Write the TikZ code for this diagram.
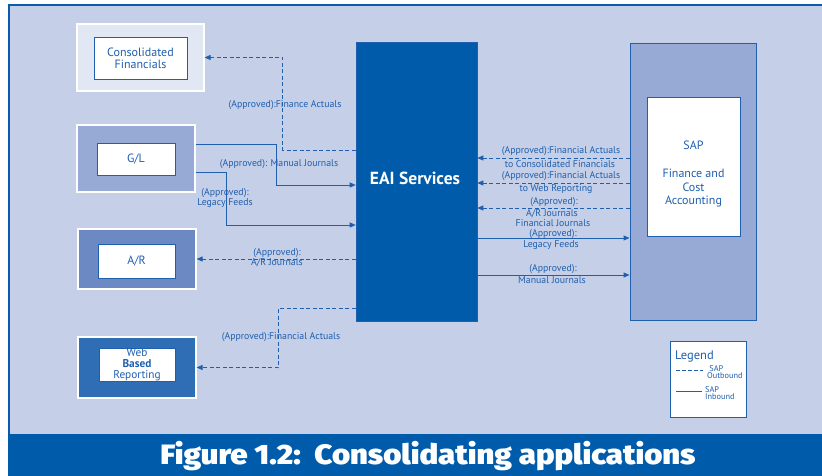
\documentclass[tikz,border=0pt]{standalone}
\usepackage{fontspec}
\setmainfont{PT Sans}
\newfontfamily\capfont{Fira Sans Black}[FakeStretch=1.11]
\usetikzlibrary{arrows.meta}
\definecolor{bgc}{HTML}{C5CFE7}
\definecolor{frameblue}{HTML}{0A5BAA}
\definecolor{eaiblue}{HTML}{005BAA}
\definecolor{midblue}{HTML}{97AAD6}
\definecolor{arblue}{HTML}{6C89C4}
\definecolor{webblue}{HTML}{2F6EB5}
\definecolor{paleblue}{HTML}{E1E7F3}
\definecolor{txtblue}{HTML}{1F5FAE}
\tikzset{
  x=1pt,y=-1pt,
  outerbox/.style={draw=white,line width=1.2pt,inner sep=0pt},
  innerbox/.style={draw=txtblue,fill=white,line width=0.9pt,inner sep=0pt,text=txtblue,font=\fontsize{12}{12}\selectfont,align=center},
  lbl/.style={text=txtblue,font=\fontsize{9.8}{9}\selectfont,inner sep=0pt,align=center},
  conn/.style={draw=txtblue,line width=0.9pt},
  outb/.style={conn,dash pattern=on 4pt off 2.5pt,-{Triangle[length=6pt,width=5pt]}},
  inb/.style={conn,-{Triangle[length=6pt,width=5pt]}},
}
\begin{document}
\begin{tikzpicture}
\useasboundingbox (0,0) rectangle (822,476);
% background frame
\fill[white] (0,0) rectangle (822,476);
\fill[bgc] (8,4) rectangle (822,434);
\draw[frameblue,line width=2pt] (9,434) -- (9,5) -- (822,5);
\fill[eaiblue] (8,434) rectangle (822,476);
\node[text=white,font=\capfont\fontsize{28}{29}\selectfont,inner sep=0pt] (cap) at (428,456) {Figure 1.2:\ \ Consolidating applications};

% left boxes
\node[outerbox,fill=paleblue,minimum width=127,minimum height=67] (cfo) at (140.5,57.5) {};
\node[innerbox,minimum width=93,minimum height=42] (cfi) at (140.5,58) {Consolidated\\Financials};
\node[outerbox,fill=midblue,minimum width=118,minimum height=67] (glo) at (136,158.5) {};
\node[innerbox,minimum width=78,minimum height=32] (gli) at (136,159) {G/L};
\node[outerbox,fill=arblue,minimum width=118,minimum height=60] (aro) at (137,259) {};
\node[innerbox,minimum width=77,minimum height=34] (ari) at (136.5,261) {A/R};
\node[outerbox,fill=webblue,minimum width=118,minimum height=61] (webo) at (137,367.5) {};
\node[innerbox,minimum width=76,minimum height=33,font=\fontsize{11.3}{10.8}\selectfont] (webi) at (137,364.5) {Web\\\textbf{Based}\\Reporting};

% EAI
\node[fill=eaiblue,draw=txtblue,line width=0.6pt,minimum width=121,minimum height=279,inner sep=0pt] (eai) at (416.5,181.5) {};
\node[text=white,font=\bfseries\fontsize{17.5}{18}\selectfont,inner sep=0pt] (eait) at (415,178) {EAI Services};

% SAP
\node[fill=midblue,draw=txtblue,line width=0.9pt,minimum width=126,minimum height=277,inner sep=0pt] (sapo) at (693,181.5) {};
\node[innerbox,minimum width=93,minimum height=139] (sapi) at (693.5,166.5) {};
\node[text=txtblue,font=\fontsize{12}{12}\selectfont,inner sep=0pt] (sapt) at (693.5,145) {SAP};
\node[text=txtblue,font=\fontsize{12}{13.5}\selectfont,inner sep=0pt,align=center] (sapf) at (693.5,188.5) {Finance and\\Cost\\Accounting};

% left connectors
\draw[outb] ([yshift=31.5pt]eai.west) -- ++(-73,0) |- (cfo.east);
\draw[inb] ([yshift=14.5pt]glo.east) -- ++(81,0) |- ([yshift=-3.5pt]eai.west);
\draw[inb] ([yshift=-13.5pt]glo.east) -- ++(31,0) |- ([yshift=-43.5pt]eai.west);
\draw[outb] ([yshift=-77.5pt]eai.west) -- (aro.east);
\draw[outb] ([yshift=-126.5pt]eai.west) -- ++(-77,0) |- (webo.east);

\node[lbl] (l1) at (285,105) {(Approved):Finance Actuals};
\node[lbl] (l2) at (279,164) {(Approved): Manual Journals};
\node[lbl,font=\fontsize{9.8}{7.8}\selectfont] (l3) at (225,198) {(Approved):\\Legacy Feeds};
\node[lbl,font=\fontsize{9.8}{7.8}\selectfont] (l4) at (277,258) {(Approved):\\A/R Journals};
\node[lbl] (l5) at (281,337) {(Approved):Financial Actuals};

% right connectors
\draw[outb] ([yshift=23.5pt]sapo.west) -- ([yshift=23.5pt]eai.east);
\draw[outb] ([yshift=-1.5pt]sapo.west) -- ([yshift=-1.5pt]eai.east);
\draw[outb] ([yshift=-26.5pt]sapo.west) -- ([yshift=-26.5pt]eai.east);
\draw[inb] ([yshift=-56.5pt]eai.east) -- ([yshift=-56.5pt]sapo.west);
\draw[inb] ([yshift=-93.5pt]eai.east) -- ([yshift=-93.5pt]sapo.west);

\node[lbl] (r6a) at (561,151) {(Approved):Financial Actuals};
\node[lbl] (r6b) at (560,164) {to Consolidated Financials};
\node[lbl] (r7a) at (561,176) {(Approved):Financial Actuals};
\node[lbl] (r7b) at (556,189) {to Web Reporting};
\node[lbl] (r8a) at (554,202) {(Approved):};
\node[lbl] (r8b) at (552,214) {A/R Journals};
\node[lbl] (r9a) at (553,223.5) {Financial Journals};
\node[lbl] (r9b) at (553,234) {(Approved):};
\node[lbl] (r9c) at (551,245) {Legacy Feeds};
\node[lbl] (r10a) at (553,269) {(Approved):};
\node[lbl] (r10b) at (552,280) {Manual Journals};

% legend
\node[draw=txtblue,fill=white,line width=0.9pt,minimum width=76,minimum height=76,inner sep=0pt] (leg) at (708,379) {};
\node[text=txtblue,font=\fontsize{12.5}{13}\selectfont,inner sep=0pt,anchor=west] (legt) at (675,356) {Legend};
\coordinate (ld1) at (676,370);
\coordinate (ld2) at (703,370);
\draw[conn,dash pattern=on 3.5pt off 2.5pt,line width=0.7pt] (ld1) -- (ld2);
\node[text=txtblue,font=\fontsize{8.3}{7}\selectfont,inner sep=0pt,anchor=west,align=left] (lgo) at (707,372) {\ SAP\\Outbound};
\coordinate (ls1) at (676,391);
\coordinate (ls2) at (702,391);
\draw[conn,line width=0.7pt] (ls1) -- (ls2);
\node[text=txtblue,font=\fontsize{8.3}{7}\selectfont,inner sep=0pt,anchor=west,align=left] (lgi) at (705,393) {SAP\\Inbound};
\end{tikzpicture}
\end{document}
